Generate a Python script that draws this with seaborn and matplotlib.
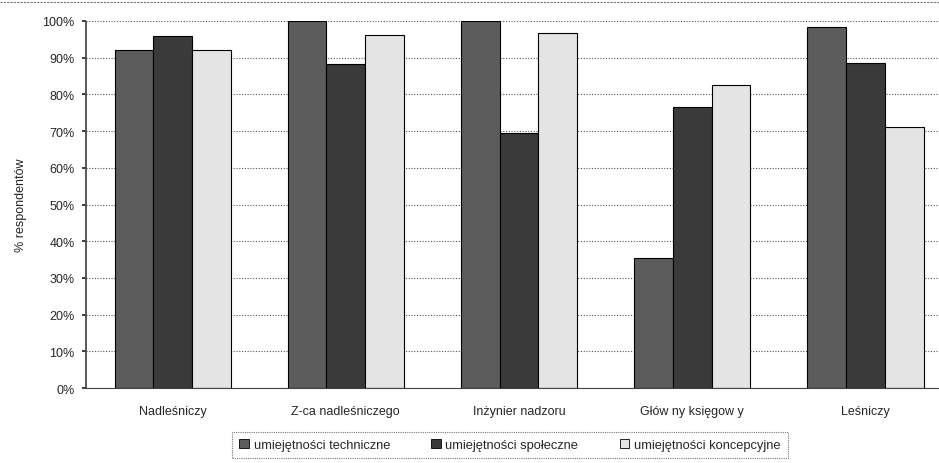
import matplotlib
matplotlib.use("Agg")
import matplotlib.pyplot as plt
import seaborn as sns
import pandas as pd
from matplotlib.lines import Line2D
from matplotlib.ticker import FuncFormatter

categories = ["Nadleśniczy", "Z-ca nadleśniczego", "Inżynier nadzoru", "Głów ny księgow y", "Leśniczy"]
series_names = ["umiejętności techniczne", "umiejętności społeczne", "umiejętności koncepcyjne"]
techniczne = [92.1, 100.0, 100.0, 35.4, 98.4]
spoleczne = [95.9, 88.4, 69.4, 76.6, 88.6]
koncepcyjne = [92.1, 96.1, 96.8, 82.6, 71.2]
yticks = [0, 10, 20, 30, 40, 50, 60, 70, 80, 90, 100]

sns.set_theme(style="white")
plt.rcParams['font.family'] = ['Liberation Sans', 'DejaVu Sans']

rows = []
for vals, name in zip([techniczne, spoleczne, koncepcyjne], series_names):
    for c, v in zip(categories, vals):
        rows.append({"cat": c, "series": name, "value": v})
df = pd.DataFrame(rows)

colors = ["#5c5c5c", "#3a3a3a", "#e4e4e4"]

fig = plt.figure(figsize=(9.39, 4.64), dpi=100)
ax = fig.add_axes([0.0915, 0.1616, 0.9225, 0.791])

sns.barplot(data=df, x="cat", y="value", hue="series", order=categories,
            hue_order=series_names, palette=colors, width=0.67,
            edgecolor="black", linewidth=0.8, saturation=1, ax=ax, legend=False)

ax.set_ylim(0, 100)
ax.set_xlim(-0.5, 4.5)
ax.set_yticks(yticks)
ax.yaxis.set_major_formatter(FuncFormatter(lambda v, p: f"{int(v)}%"))
ax.set_axisbelow(True)
ax.yaxis.grid(True, linestyle=(0, (1, 1.5)), color="#555555", linewidth=0.8)
ax.xaxis.grid(False)
ax.set_xlabel("")
ax.set_ylabel("% respondentów", fontsize=9, labelpad=11)
ax.tick_params(axis="y", labelsize=9, length=3, left=True, direction="out", pad=5)
ax.tick_params(axis="x", labelsize=9, length=0, pad=12)
for s in ["top", "right"]:
    ax.spines[s].set_visible(False)
ax.spines["left"].set_linestyle((0, (1, 1)))
ax.spines["left"].set_color("#444444")
ax.spines["bottom"].set_color("#444444")
ax.spines["bottom"].set_linewidth(0.8)

# outer frame line at top of chart
fig.add_artist(Line2D([0, 1], [0.993, 0.993], transform=fig.transFigure,
                      color="#777777", linewidth=0.8, linestyle=(0, (2, 1))))

handles = [plt.Rectangle((0, 0), 1, 1, facecolor=c, edgecolor="black", linewidth=0.6) for c in colors]
leg = fig.legend(handles, series_names, loc="upper center", bbox_to_anchor=(0.543, 0.067),
                 ncol=3, fontsize=9.3, frameon=True, fancybox=False,
                 handlelength=0.75, handleheight=0.75, handletextpad=0.35,
                 columnspacing=3.2, borderpad=0.55, borderaxespad=0)
frame = leg.get_frame()
frame.set_edgecolor("#555555")
frame.set_linestyle((0, (1, 1)))
frame.set_linewidth(0.8)

fig.savefig("out.png", dpi=100)
